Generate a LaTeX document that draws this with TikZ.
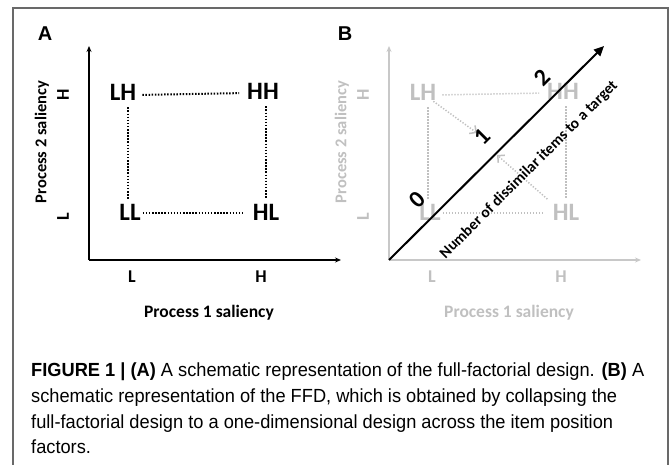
\documentclass[tikz,border=0pt]{standalone}
\usepackage{fontspec}
\setmainfont{Liberation Sans}
\newfontfamily\calfont{Carlito}
\newfontfamily\capfont[FakeStretch=0.96]{Liberation Sans}
\usetikzlibrary{arrows.meta}
\definecolor{lightg}{RGB}{192,192,192}
\definecolor{axisg}{RGB}{200,200,200}
\definecolor{frameg}{RGB}{105,105,105}
\begin{document}
\begin{tikzpicture}[x=1pt,y=-1pt,
  cell/.style={font=\calfont\bfseries\fontsize{25}{27}\selectfont, inner sep=0pt},
  tickl/.style={font=\calfont\bfseries\fontsize{18}{20}\selectfont, inner sep=0pt},
  axlabel/.style={font=\calfont\bfseries\fontsize{17.5}{19}\selectfont, inner sep=0pt},
  axlabelv/.style={font=\calfont\bfseries\fontsize{16.5}{18}\selectfont, inner sep=0pt, rotate=90},
  panel/.style={font=\bfseries\fontsize{20}{22}\selectfont, inner sep=0pt},
  num/.style={font=\calfont\bfseries\fontsize{24}{26}\selectfont, inner sep=0pt, rotate=45},
  diagtext/.style={font=\calfont\bfseries\fontsize{15.5}{17}\selectfont, inner sep=0pt, rotate=45},
  caption/.style={font=\capfont\fontsize{19}{22}\selectfont, inner sep=0pt, anchor=base west},
  dotline/.style={line width=2pt, dash pattern=on 1.5pt off 1.6pt},
  gdotline/.style={lightg, line width=1.5pt, dash pattern=on 1.3pt off 1.7pt},
  axisA/.style={line width=1.8pt, -{Stealth[length=6pt,width=5pt]}},
  axisB/.style={axisg, line width=1.3pt, -{Stealth[length=6pt,width=5pt]}},
  garrow/.style={lightg, line width=1.5pt, dash pattern=on 1.3pt off 1.7pt, -{Straight Barb[length=5pt,width=10pt,line width=1.5pt]}},
  diag/.style={line width=2pt, -{Triangle[length=10pt,width=9pt]}}
]
\useasboundingbox (0,0) rectangle (671,465);
\draw[frameg, line width=1.3pt] (13,470) -- (13,8) -- (668,8) -- (668,470);

% ---------- Panel A ----------
\node[panel] (Alab) at (45,34) {A};
\coordinate (Ao) at (89,260);
\coordinate (Ay) at (89,46);
\coordinate (Ax) at (341,260);
\draw[axisA] (Ao) -- (Ay);
\draw[axisA] (Ao) -- (Ax);
\node[tickl] (AxL) at (132,277) {L};
\node[tickl] (AxH) at (261,277) {H};
\node[axlabel] (Axlab) at (209,313) {Process 1 saliency};
\node[tickl, rotate=90] (AyH) at (63,95) {H};
\node[tickl, rotate=90] (AyL) at (63,217) {L};
\node[axlabelv] (Aylab) at (42,142) {Process 2 saliency};
\node[cell] (ALH) at (123,92) {LH};
\node[cell] (AHH) at (263,91) {HH};
\node[cell] (ALL) at (130,212) {LL};
\node[cell] (AHL) at (266,212) {HL};
\draw[dotline, shorten <=6pt, shorten >=8pt] ([yshift=-3pt]ALH.east) -- ([yshift=-2pt]AHH.west);
\draw[dotline, shorten <=2pt, shorten >=8pt] ([yshift=-1pt]ALL.east) -- ([yshift=-1pt]AHL.west);
\draw[dotline, shorten <=7pt, shorten >=5pt] ([xshift=5pt]ALH.south) -- ([xshift=-2pt]ALL.north);
\draw[dotline, shorten <=7pt, shorten >=5pt] ([xshift=3pt]AHH.south) -- (AHL.north);

% ---------- Panel B ----------
\node[panel] (Blab) at (345,34) {B};
\coordinate (Bo) at (389,260);
\coordinate (By) at (389,46);
\coordinate (Bx) at (641,260);
\draw[axisB] (Bo) -- (By);
\draw[axisB] (Bo) -- (Bx);
\node[tickl, lightg] (BxL) at (432,277) {L};
\node[tickl, lightg] (BxH) at (561,277) {H};
\node[axlabel, lightg] (Bxlab) at (509,313) {Process 1 saliency};
\node[tickl, lightg, rotate=90] (ByH) at (363,95) {H};
\node[tickl, lightg, rotate=90] (ByL) at (363,217) {L};
\node[axlabelv, lightg] (Bylab) at (342,142) {Process 2 saliency};
\node[cell, lightg] (BLH) at (423,92) {LH};
\node[cell, lightg] (BHH) at (563,91) {HH};
\node[cell, lightg] (BLL) at (430,212) {LL};
\node[cell, lightg] (BHL) at (566,212) {HL};
\draw[gdotline, shorten <=6pt, shorten >=8pt] ([yshift=-3pt]BLH.east) -- ([yshift=-2pt]BHH.west);
\draw[gdotline, shorten <=2pt, shorten >=8pt] ([yshift=-1pt]BLL.east) -- ([yshift=-1pt]BHL.west);
\draw[gdotline, shorten <=7pt, shorten >=5pt] ([xshift=5pt]BLH.south) -- ([xshift=-2pt]BLL.north);
\draw[gdotline, shorten <=7pt, shorten >=5pt] ([xshift=3pt]BHH.south) -- (BHL.north);
\coordinate (Bt1) at (477,133);
\coordinate (Bt2) at (497,155);
\draw[garrow] ([xshift=-3pt,yshift=-1pt]BLH.south east) -- (Bt1);
\draw[garrow, shorten <=7pt] (BHL.north west) -- (Bt2);
\coordinate (Btip) at (604,46);
\draw[diag] (Bo) -- (Btip);
\node[num] (n0) at (417,200) {0};
\node[num] (n1) at (482,137) {1};
\node[num] (n2) at (542,78) {2};
\node[diagtext] (ntext) at (529,170) {Number of dissimilar items to a target};

% ---------- Caption ----------
\node[caption] (cap1) at (31,376) {\textbf{FIGURE 1 | (A)} A schematic representation of the full-factorial design. \textbf{(B)} A};
\node[caption] (cap2) at (31,402) {schematic representation of the FFD, which is obtained by collapsing the};
\node[caption] (cap3) at (31,428) {full-factorial design to a one-dimensional design across the item position};
\node[caption] (cap4) at (31,453) {factors.};
\end{tikzpicture}
\end{document}
